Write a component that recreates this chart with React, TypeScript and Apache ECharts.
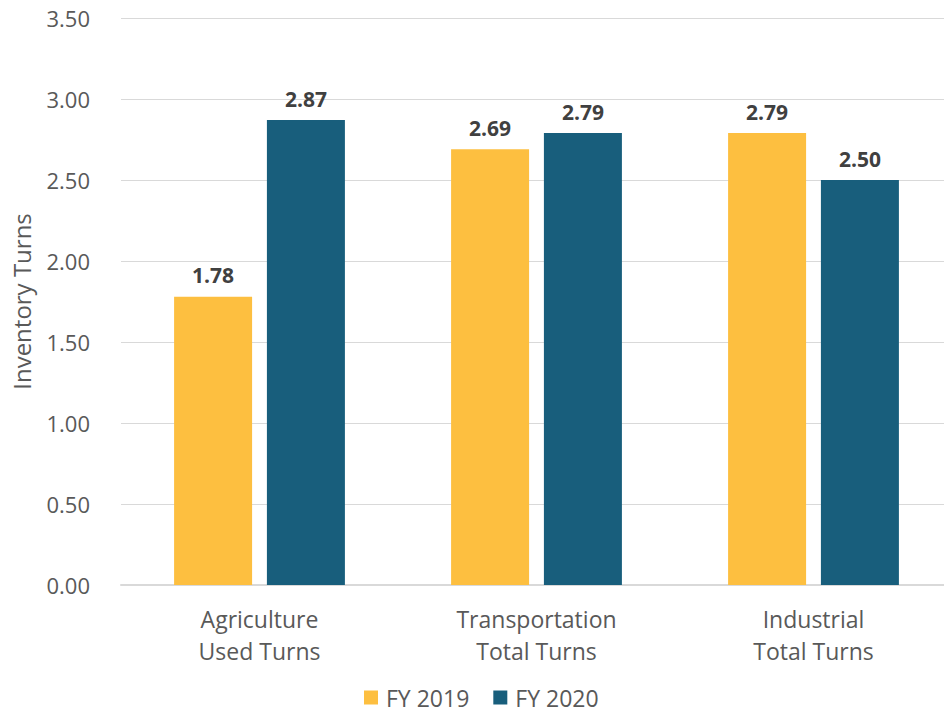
import React, { useEffect, useRef } from "react";
import * as echarts from "echarts";

const categories = ["Agriculture\nUsed Turns", "Transportation\nTotal Turns", "Industrial\nTotal Turns"];
const fy2019 = [1.78, 2.69, 2.79];
const fy2020 = [2.87, 2.79, 2.5];
const seriesNames = ["FY 2019", "FY 2020"];
const yTitle = "Inventory Turns";

const FONT = "'Open Sans', sans-serif";

export default function App() {
  const ref = useRef<HTMLDivElement>(null);
  useEffect(() => {
    if (!ref.current) return;
    const chart = echarts.init(ref.current, null, { renderer: "svg" });
    const label = {
      show: true,
      position: "top",
      distance: 11,
      formatter: (p: any) => Number(p.value).toFixed(2),
      fontFamily: FONT,
      fontSize: 21,
      fontWeight: "bold",
      color: "#404040",
    };
    chart.setOption({
      animation: false,
      backgroundColor: "#ffffff",
      textStyle: { fontFamily: FONT },
      grid: {
        left: 121,
        top: 18,
        width: 831,
        height: 567,
        containLabel: false,
        outerBoundsMode: "none",
      },
      legend: {
        top: 681,
        left: 359,
        itemWidth: 14,
        itemHeight: 14,
        itemGap: 24,
        icon: "rect",
        textStyle: { fontFamily: FONT, fontSize: 23, color: "#595959", padding: [0, 0, 0, 3] },
        data: seriesNames,
      },
      xAxis: {
        type: "category",
        data: categories,
        axisLine: { lineStyle: { color: "#d9d9d9", width: 2 } },
        axisTick: { show: false },
        axisLabel: {
          fontFamily: FONT,
          fontSize: 23,
          color: "#595959",
          lineHeight: 32,
          margin: 18,
        },
      },
      yAxis: {
        type: "value",
        min: 0,
        max: 3.5,
        interval: 0.5,
        name: yTitle,
        nameLocation: "middle",
        nameGap: 88,
        nameTextStyle: { fontFamily: FONT, fontSize: 24, color: "#595959" },
        axisLine: { show: false },
        axisTick: { show: false },
        splitLine: { lineStyle: { color: "#d9d9d9", width: 1 } },
        axisLabel: {
          fontFamily: FONT,
          fontSize: 22,
          color: "#595959",
          margin: 31,
          formatter: (v: number) => v.toFixed(2),
        },
      },
      series: [
        {
          name: seriesNames[0],
          type: "bar",
          data: fy2019,
          barWidth: 78,
          barGap: "19%",
          itemStyle: { color: "#FDBF40" },
          label,
        },
        {
          name: seriesNames[1],
          type: "bar",
          data: fy2020,
          barWidth: 78,
          barGap: "19%",
          itemStyle: { color: "#185E7C" },
          label,
        },
      ],
    });
    return () => chart.dispose();
  }, []);
  return (
    <div
      ref={ref}
      style={{ position: "fixed", left: 0, top: 0, width: 944, height: 715, overflow: "hidden" }}
    />
  );
}
